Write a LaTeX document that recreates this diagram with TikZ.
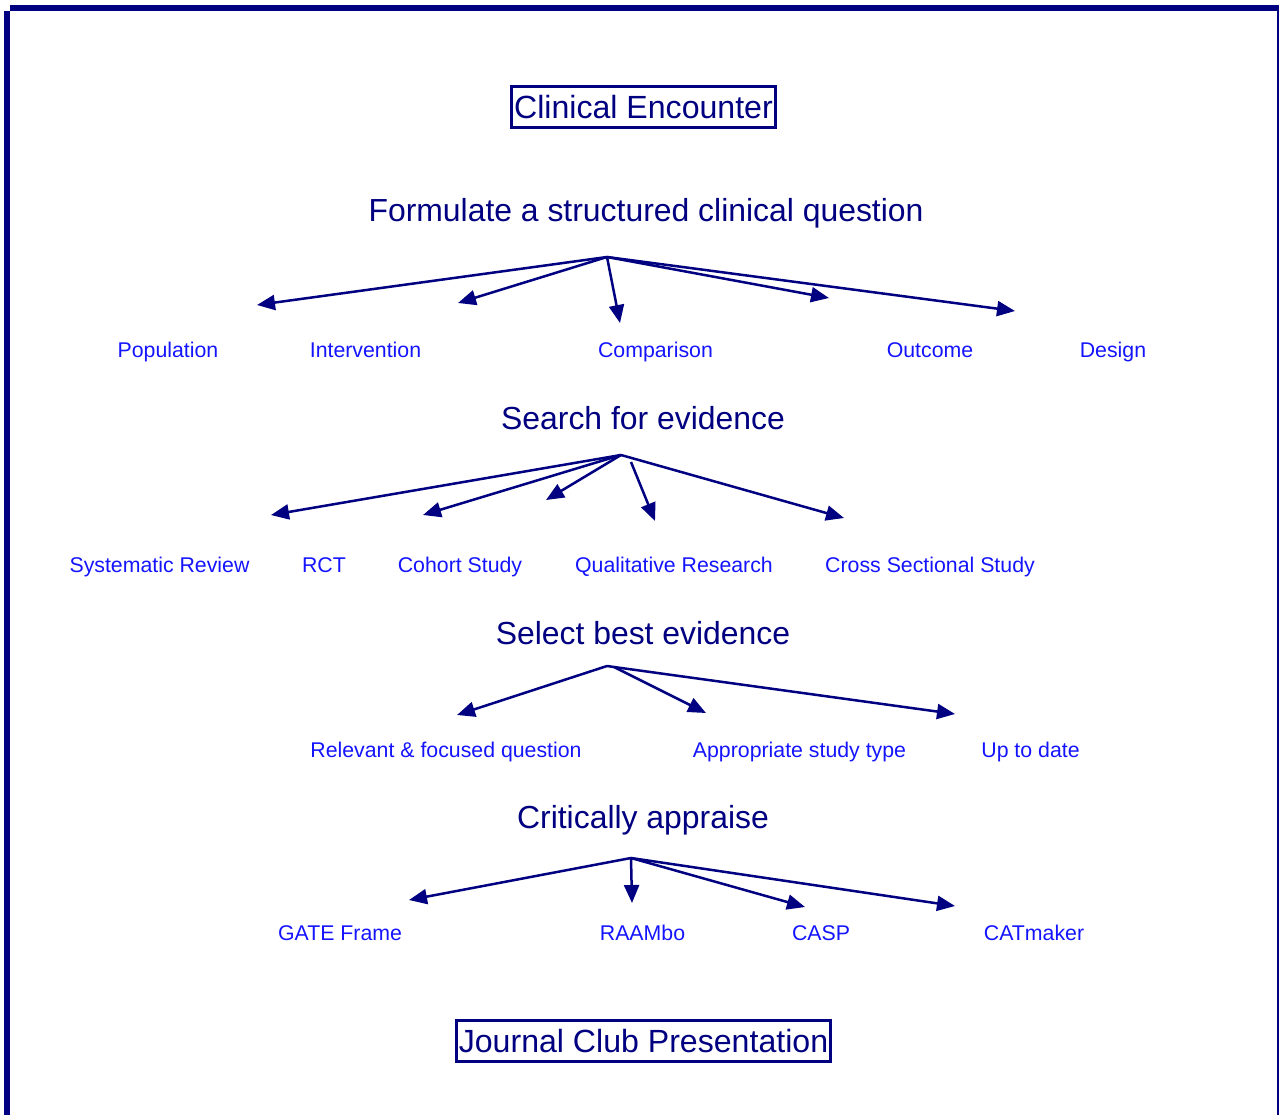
\documentclass[tikz,border=0pt]{standalone}
\usepackage{fontspec}
\setmainfont{Liberation Sans}
\usetikzlibrary{arrows.meta}
\definecolor{navyc}{RGB}{0,0,128}
\definecolor{labc}{RGB}{20,20,255}
\begin{document}
\begin{tikzpicture}[x=1pt,y=-1pt,
  heading/.style={text=navyc, font=\fontsize{31.9}{36}\selectfont, inner sep=0pt, anchor=base},
  item/.style={text=labc, font=\fontsize{21.3}{25}\selectfont, inner sep=0pt, anchor=base},
  framebox/.style={draw=navyc, line width=3pt, text=navyc, font=\fontsize{32.1}{36}\selectfont, inner sep=0pt, minimum height=41pt, anchor=center},
  conn/.style={draw=navyc, line width=2.5pt, -{Triangle[length=18pt,width=15pt]}},
  plainline/.style={draw=navyc, line width=2.5pt}]
\useasboundingbox (0,0) rectangle (1279,1115);
% border
\fill[navyc] (10,5) rectangle (1279,11);
\fill[navyc] (4,11) rectangle (10,1115);
\fill[navyc] (1277,11) rectangle (1279,1115);

% boxes
\node[framebox, minimum width=264pt] (enc) at (643.5,107.5) {Clinical Encounter};
\node[framebox, minimum width=374pt] (jcp) at (643.5,1041) {Journal Club Presentation};

% headings
\node[heading] (hq) at (646,221.5) {Formulate a structured clinical question};
\node[heading] (hs) at (643,429.5) {Search for evidence};
\node[heading] (hb) at (643,644.5) {Select best evidence};
\node[heading] (ha) at (643,828.5) {Critically appraise};

% row 1
\node[item] (pop) at (168,357.5) {Population};
\node[item] (int) at (365.5,357.5) {Intervention};
\node[item] (com) at (655.5,357.5) {Comparison};
\node[item] (out) at (930,357.5) {Outcome};
\node[item] (des) at (1113,357.5) {Design};

% row 2
\node[item] (sys) at (159.5,572.5) {Systematic Review};
\node[item] (rct) at (324,572.5) {RCT};
\node[item] (coh) at (460,572.5) {Cohort Study};
\node[item] (qual) at (674,572.5) {Qualitative Research};
\node[item] (cross) at (930,572.5) {Cross Sectional Study};

% row 3
\node[item] (rel) at (446,757.5) {Relevant \& focused question};
\node[item] (app) at (799.5,757.5) {Appropriate study type};
\node[item] (upd) at (1030.5,757.5) {Up to date};

% row 4
\node[item] (gate) at (340,940.5) {GATE Frame};
\node[item] (raam) at (642.5,940.5) {RAAMbo};
\node[item] (casp) at (821,940.5) {CASP};
\node[item] (cat) at (1034,940.5) {CATmaker};

% group 1
\coordinate (qa) at (607,257);
\coordinate (q1) at (257,305);
\coordinate (q2) at (458,303);
\coordinate (q3) at (620,323);
\coordinate (q4) at (829,298);
\coordinate (q5) at (1015,311);
\draw[conn] (qa) -- (q1);
\draw[conn] (qa) -- (q2);
\draw[conn] (qa) -- (q3);
\draw[conn] (qa) -- (q4);
\draw[conn] (qa) -- (q5);

% group 2
\coordinate (sa) at (621,455);
\coordinate (sa2) at (631,462);
\coordinate (s1) at (271,515);
\coordinate (s2) at (423,515);
\coordinate (s3) at (546,500);
\coordinate (s4) at (655,521);
\coordinate (s5) at (844,518);
\draw[conn] (sa) -- (s1);
\draw[conn] (sa) -- (s2);
\draw[conn] (sa) -- (s3);
\draw[conn] (sa2) -- (s4);
\draw[conn] (sa) -- (s5);

% group 3
\coordinate (ba) at (607,666);
\coordinate (bb) at (614,667);
\coordinate (b1) at (457,715);
\coordinate (b2) at (706,713);
\coordinate (b3) at (955,714);
\draw[plainline] (ba) -- (bb);
\draw[conn] (ba) -- (b1);
\draw[conn] (bb) -- (b2);
\draw[conn] (bb) -- (b3);

% group 4
\coordinate (aa) at (631,858);
\coordinate (a1) at (409,900);
\coordinate (a2) at (632,903);
\coordinate (a3) at (805,907);
\coordinate (a4) at (955,906);
\draw[conn] (aa) -- (a1);
\draw[conn] (aa) -- (a2);
\draw[conn] (aa) -- (a3);
\draw[conn] (aa) -- (a4);
\end{tikzpicture}
\end{document}
